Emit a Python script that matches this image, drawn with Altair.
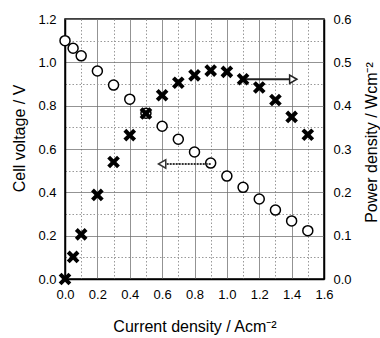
import altair as alt
import pandas as pd

# ---- data ----
current = [0.0, 0.05, 0.1, 0.2, 0.3, 0.4, 0.5, 0.6, 0.7, 0.8, 0.9, 1.0, 1.1, 1.2, 1.3, 1.4, 1.5]
voltage = [1.10, 1.065, 1.03, 0.96, 0.895, 0.83, 0.765, 0.705, 0.645, 0.586, 0.535,
           0.475, 0.423, 0.369, 0.318, 0.268, 0.223]
power = [0.0, 0.051, 0.103, 0.194, 0.27, 0.332, 0.382, 0.424, 0.453, 0.47, 0.481,
         0.478, 0.461, 0.442, 0.413, 0.374, 0.333]

x_ticks = [0.0, 0.1, 0.2, 0.3, 0.4, 0.5, 0.6, 0.7, 0.8, 0.9, 1.0, 1.1, 1.2, 1.3, 1.4, 1.5, 1.6]
v_ticks = [0.0, 0.1, 0.2, 0.3, 0.4, 0.5, 0.6, 0.7, 0.8, 0.9, 1.0, 1.1, 1.2]
p_ticks = [0.0, 0.1, 0.2, 0.3, 0.4, 0.5, 0.6]

# annotation arrows (data units)
left_arrow_from = [0.9]
left_arrow_to = [0.6]
left_arrow_v = [0.531]
right_arrow_from = [1.1]
right_arrow_to = [1.41]
right_arrow_p = [0.461]

df = pd.DataFrame({"current": current, "voltage": voltage, "power": power})
la = pd.DataFrame({"x1": left_arrow_from, "x2": left_arrow_to, "voltage": left_arrow_v})
ra = pd.DataFrame({"x1": right_arrow_from, "x2": right_arrow_to, "power": right_arrow_p})

FONT = "Liberation Sans"
major = "round(datum.value*10) % 2 == 0"

x_scale = alt.Scale(domain=[0, 1.6], nice=False, zero=False)
v_scale = alt.Scale(domain=[0, 1.2], nice=False)
p_scale = alt.Scale(domain=[0, 0.6], nice=False)

grid_dash = {"condition": {"test": major, "value": [1, 0]}, "value": [1.5, 2]}
grid_color = {"condition": {"test": major, "value": "#6e6e6e"}, "value": "#999999"}

x_axis = alt.Axis(values=x_ticks, title="Current density / Acm⁻²",
                  labelExpr=f"{major} ? format(datum.value, '.1f') : ''",
                  grid=True, gridDash=grid_dash, gridColor=grid_color, gridWidth=1,
                  ticks=False, labelPadding=9, titlePadding=17, labelFlush=False)
v_axis = alt.Axis(values=v_ticks, title="Cell voltage / V",
                  labelExpr=f"{major} ? format(datum.value, '.1f') : ''",
                  grid=True, gridDash=grid_dash, gridColor=grid_color, gridWidth=1,
                  ticks=False, labelPadding=9, labelFlush=False,
                  titleAngle=270, titleBaseline="alphabetic", titleAlign="center",
                  titleX=-41, titleY=119)
p_axis = alt.Axis(values=p_ticks, title="Power density / Wcm⁻²", orient="right",
                  format=".1f", grid=False, ticks=False, labelPadding=9, labelFlush=False,
                  titleAngle=270, titleBaseline="alphabetic", titleAlign="center",
                  titleX=52, titleY=123)

X = alt.X("current:Q", scale=x_scale, axis=x_axis)

circles = alt.Chart(df).mark_point(shape="circle", filled=True, fill="white",
                                   stroke="black", strokeWidth=1.5, size=100, opacity=1).encode(
    x=X, y=alt.Y("voltage:Q", scale=v_scale, axis=v_axis))

left_line = alt.Chart(la).mark_rule(color="#333333", strokeWidth=2, strokeDash=[2, 1]).encode(
    x=alt.X("x1:Q", scale=x_scale, axis=x_axis), x2="x2:Q",
    y=alt.Y("voltage:Q", scale=v_scale, axis=v_axis))
left_head = alt.Chart(la).mark_point(shape="triangle-left", filled=True, fill="white",
                                     stroke="#333333", strokeWidth=1.5, size=70, opacity=1).encode(
    x=alt.X("x2:Q", scale=x_scale, axis=x_axis),
    y=alt.Y("voltage:Q", scale=v_scale, axis=v_axis))

X_PATH = ("M-1,-0.55 L-0.55,-1 L0,-0.45 L0.55,-1 L1,-0.55 L0.45,0 L1,0.55 "
          "L0.55,1 L0,0.45 L-0.55,1 L-1,0.55 L-0.45,0 Z")
crosses = alt.Chart(df).mark_point(shape=X_PATH, filled=True, fill="black",
                                   strokeWidth=0, size=160, opacity=1).encode(
    x=X, y=alt.Y("power:Q", scale=p_scale, axis=p_axis))

right_line = alt.Chart(ra).mark_rule(color="#222222", strokeWidth=1.8).encode(
    x=alt.X("x1:Q", scale=x_scale, axis=x_axis), x2="x2:Q",
    y=alt.Y("power:Q", scale=p_scale, axis=p_axis))
right_head = alt.Chart(ra).mark_point(shape="triangle-right", filled=True, fill="white",
                                      stroke="#222222", strokeWidth=1.5, size=70, opacity=1).encode(
    x=alt.X("x2:Q", scale=x_scale, axis=x_axis),
    y=alt.Y("power:Q", scale=p_scale, axis=p_axis))

left_group = alt.layer(circles, left_line, left_head)
right_group = alt.layer(right_line, right_head, crosses)

chart = alt.layer(left_group, right_group).resolve_scale(y="independent").properties(
    width=259, height=260,
    padding={"left": 65, "top": 19, "right": 56, "bottom": 59},
    autosize=alt.AutoSizeParams(type="none"),
    background="white",
).configure_view(stroke="black", strokeWidth=1.5).configure_axis(
    labelFont=FONT, titleFont=FONT, labelFontSize=13, titleFontSize=16,
    titleFontWeight="normal", labelColor="black", titleColor="black",
    domainColor="black", domainWidth=1.5,
)

chart.save("out.html", embed_options={"renderer": "svg", "actions": False})
